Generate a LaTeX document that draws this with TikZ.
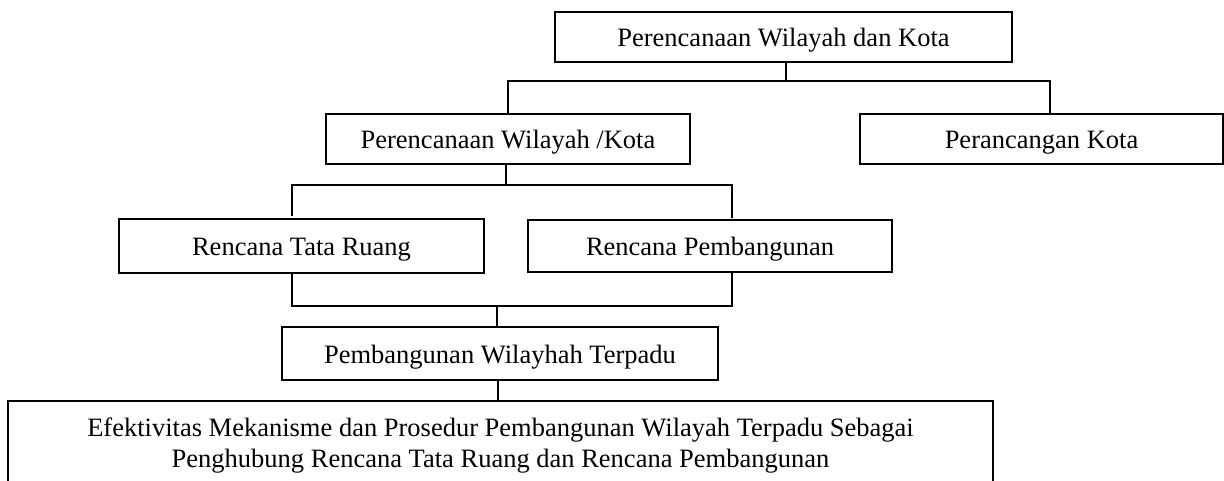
\documentclass[tikz,border=0pt]{standalone}
\usepackage{fontspec}
\setmainfont{Liberation Serif}
\begin{document}
\begin{tikzpicture}[x=1pt,y=-1pt,
  box/.style={draw, line width=1.4pt, rectangle, inner sep=0pt, align=center,
    font=\fontsize{26.5pt}{31pt}\selectfont},
  onebox/.style={box, text height=25pt, text depth=5.3pt},
  conn/.style={line width=1.4pt}]
\useasboundingbox (0,0) rectangle (1224,481);
\clip (0,0) rectangle (1224,481);
\node[onebox, minimum width=457pt, minimum height=50pt] (top) at (783.5,37) {Perencanaan Wilayah dan Kota};
\node[onebox, minimum width=364pt, minimum height=50pt] (box2) at (508,139) {Perencanaan Wilayah /Kota};
\node[onebox, minimum width=363pt, minimum height=50pt] (pk) at (1041.5,139) {Perancangan Kota};
\node[onebox, minimum width=365pt, minimum height=54pt] (rtr) at (301.5,246) {Rencana Tata Ruang};
\node[onebox, minimum width=364pt, minimum height=52pt] (rp) at (710,246) {Rencana Pembangunan};
\node[onebox, minimum width=436pt, minimum height=53pt] (pwt) at (500,353.5) {Pembangunan Wilayhah Terpadu};
\node[box, minimum width=985pt, minimum height=86pt] (big) at (500.5,444) {\rule{0pt}{22pt}Efektivitas Mekanisme dan Prosedur Pembangunan Wilayah Terpadu Sebagai\\Penghubung Rencana Tata Ruang dan Rencana Pembangunan};
% level 1
\coordinate (h1L) at (508,81);
\coordinate (h1R) at (1050,81);
\coordinate (h1M) at (786,81);
\draw[conn] (top.south -| h1M) -- (h1M);
\draw[conn] (box2.north -| h1L) -- (h1L) -- (h1R) -- (pk.north -| h1R);
% level 2
\coordinate (h2L) at (292,185);
\coordinate (h2R) at (732,185);
\coordinate (h2M) at (506,185);
\coordinate (t2L) at (292,216);
\coordinate (t2R) at (732,218);
\draw[conn] (box2.south -| h2M) -- (h2M);
\draw[conn] (t2L) -- (h2L) -- (h2R) -- (t2R);
% level 3
\coordinate (h3L) at (292,306);
\coordinate (h3R) at (732,306);
\coordinate (h3M) at (497,306);
\draw[conn] (rtr.south -| h3L) -- (h3L) -- (h3R) -- (rp.south -| h3R);
\draw[conn] (h3M) -- (pwt.north -| h3M);
% level 4
\coordinate (h4M) at (498,390);
\draw[conn] (pwt.south -| h4M) -- (big.north -| h4M);
\end{tikzpicture}
\end{document}
